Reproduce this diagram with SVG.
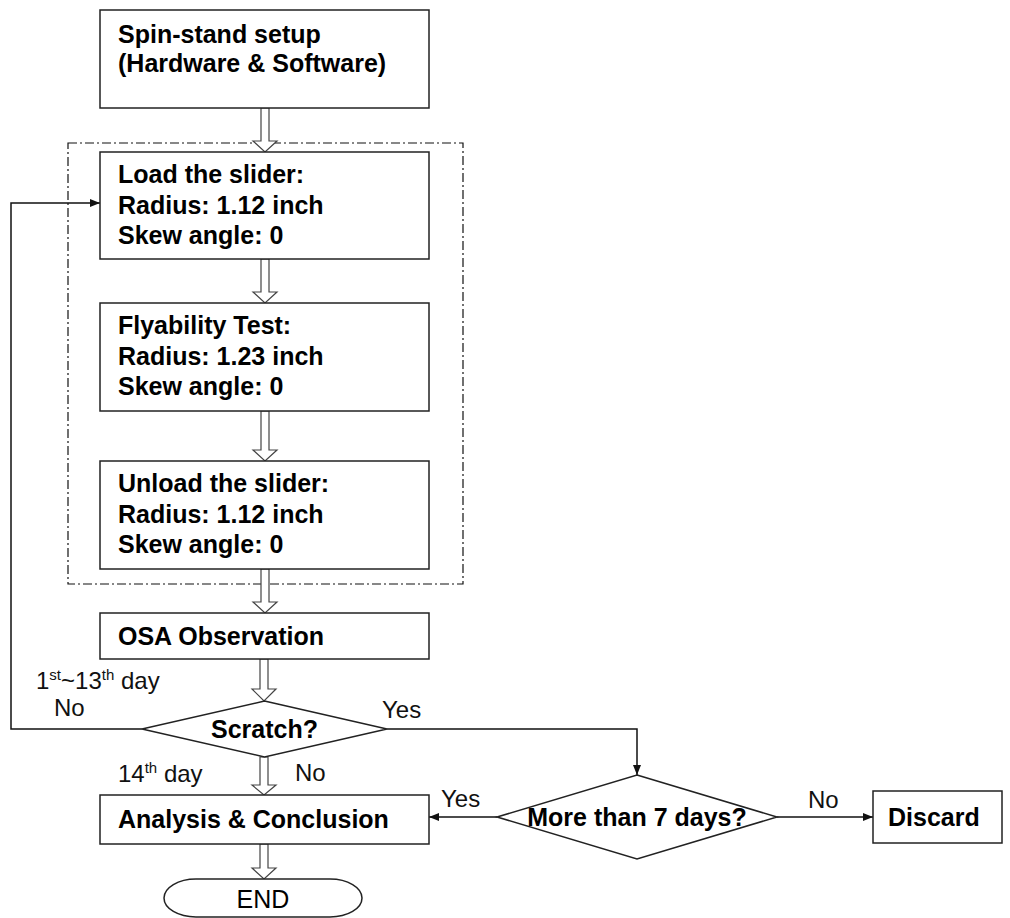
<svg xmlns="http://www.w3.org/2000/svg" width="1010" height="918" viewBox="0 0 1010 918">
<defs>
<style>
.box{fill:#fff;stroke:#222;stroke-width:1.5}
.t{font-family:"Liberation Sans",Arial,sans-serif;font-size:25px;font-weight:bold;fill:#000}
.e{font-family:"Liberation Sans",Arial,sans-serif;font-size:25px;fill:#000}
.l{font-family:"Liberation Sans",Arial,sans-serif;font-size:24px;fill:#111}
.sup{font-size:15px}
.ln{fill:none;stroke:#111;stroke-width:1.5}
.ha{fill:#fff;stroke:#444;stroke-width:1.2}
.dash{fill:none;stroke:#111;stroke-width:1.2;stroke-dasharray:9 3 2 3}
</style>
<marker id="ah" viewBox="0 0 10 10" refX="10" refY="5" markerWidth="10" markerHeight="10" markerUnits="userSpaceOnUse" orient="auto">
<path d="M0,1 L10,5 L0,9 Z" fill="#111"/>
</marker>
</defs>
<rect width="1010" height="918" fill="#fff"/>

<g id="group-dashed">
<rect class="dash" x="68" y="143" width="395" height="441"/>
</g>

<g id="connectors">
<polygon class="ha" points="261,108 269,108 269,141 277,141 265,152 253,141 261,141"/>
<polygon class="ha" points="261,259 269,259 269,292 277,292 265,303 253,292 261,292"/>
<polygon class="ha" points="261,411 269,411 269,450 277,450 265,461 253,450 261,450"/>
<polygon class="ha" points="261,569 269,569 269,602 277,602 265,613 253,602 261,602"/>
<polygon class="ha" points="260,659 268,659 268,689 276,689 264,701 252,689 260,689"/>
<polygon class="ha" points="260,757 268,757 268,785 276,785 264,795 252,785 260,785"/>
<polygon class="ha" points="260,844 268,844 268,868 276,868 264,879 252,868 260,868"/>
<polyline class="ln" points="142,729 11,729 11,203 100,203" marker-end="url(#ah)"/>
<polyline class="ln" points="387,729 637,729 637,775" marker-end="url(#ah)"/>
<line class="ln" x1="777" y1="817" x2="873" y2="817" marker-end="url(#ah)"/>
<line class="ln" x1="497" y1="817" x2="429" y2="817" marker-end="url(#ah)"/>
<text class="l" x="36" y="689">1<tspan class="sup" dy="-9">st</tspan><tspan dy="9">~13</tspan><tspan class="sup" dy="-9">th</tspan><tspan dy="9"> day</tspan></text>
<text class="l" x="54" y="716">No</text>
<text class="l" x="382" y="718">Yes</text>
<text class="l" x="118" y="782">14<tspan class="sup" dy="-9">th</tspan><tspan dy="9"> day</tspan></text>
<text class="l" x="295" y="781">No</text>
<text class="l" x="441" y="807">Yes</text>
<text class="l" x="808" y="808">No</text>
</g>

<g id="node-setup">
<rect class="box" x="100" y="10" width="329" height="98"/>
<text class="t" x="118" y="43">Spin-stand setup</text>
<text class="t" x="118" y="72">(Hardware &amp; Software)</text>
</g>

<g id="node-load">
<rect class="box" x="100" y="152" width="329" height="107"/>
<text class="t" x="118" y="183">Load the slider:</text>
<text class="t" x="118" y="214">Radius: 1.12 inch</text>
<text class="t" x="118" y="244">Skew angle: 0</text>
</g>

<g id="node-fly">
<rect class="box" x="100" y="303" width="329" height="108"/>
<text class="t" x="118" y="334">Flyability Test:</text>
<text class="t" x="118" y="365">Radius: 1.23 inch</text>
<text class="t" x="118" y="395">Skew angle: 0</text>
</g>

<g id="node-unload">
<rect class="box" x="100" y="461" width="329" height="108"/>
<text class="t" x="118" y="492">Unload the slider:</text>
<text class="t" x="118" y="523">Radius: 1.12 inch</text>
<text class="t" x="118" y="553">Skew angle: 0</text>
</g>

<g id="node-osa">
<rect class="box" x="100" y="613" width="329" height="46"/>
<text class="t" x="118" y="645">OSA Observation</text>
</g>

<g id="node-scratch">
<polygon class="box" points="264.5,701 387,729 264.5,757 142,729"/>
<text class="t" x="264.5" y="738" text-anchor="middle">Scratch?</text>
</g>

<g id="node-analysis">
<rect class="box" x="100" y="795" width="329" height="49"/>
<text class="t" x="118" y="828">Analysis &amp; Conclusion</text>
</g>

<g id="node-days">
<polygon class="box" points="637,775 777,817 637,859 497,817"/>
<text class="t" x="637" y="826" text-anchor="middle">More than 7 days?</text>
</g>

<g id="node-discard">
<rect class="box" x="873" y="791" width="129" height="52"/>
<text class="t" x="888" y="826">Discard</text>
</g>

<g id="node-end">
<rect class="box" x="164" y="879" width="198" height="38" rx="32" ry="19"/>
<text class="e" x="263" y="908" text-anchor="middle">END</text>
</g>
</svg>
